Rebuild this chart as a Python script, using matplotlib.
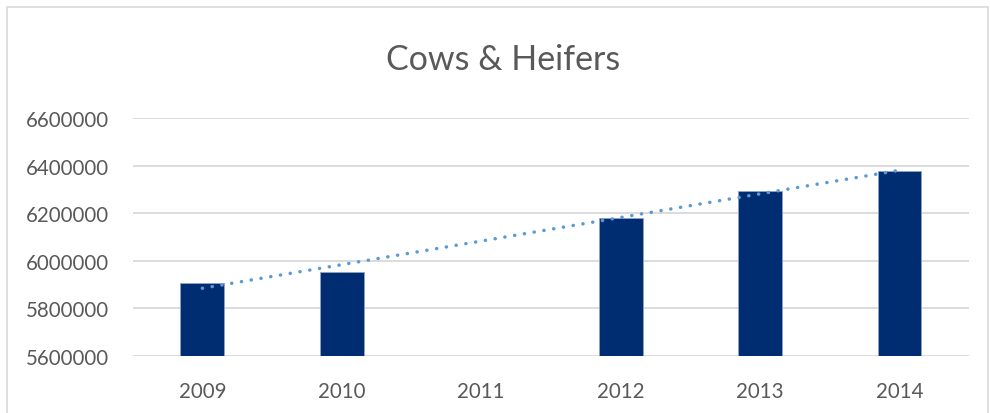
import matplotlib
matplotlib.use("Agg")
import matplotlib.pyplot as plt
import numpy as np
from matplotlib.patches import Rectangle

years = ["2009", "2010", "2011", "2012", "2013", "2014"]
head = [5907000, 5953000, np.nan, 6180000, 6293000, 6378000]

plt.rcParams["font.family"] = ["Lato", "DejaVu Sans"]
text_col = "#595959"
grid_col = "#d9d9d9"

fig = plt.figure(figsize=(9.9, 4.14), dpi=100)
ax = fig.add_axes([0.134, 0.138, 0.845, 0.5746])

x = np.arange(len(years))
vals = np.array(head, dtype=float)
ax.bar(x, np.nan_to_num(vals - 5600000), bottom=5600000, width=0.315,
       color="#002d72", edgecolor="#8fa3c4", linewidth=0.6, zorder=3)

# linear trendline over the years that have data
ok = ~np.isnan(vals)
k, b = np.polyfit(x[ok], vals[ok], 1)
ax.plot([x[0], x[-1]], [k * x[0] + b, k * x[-1] + b], color="#5b9bd5",
        linestyle=(0, (0.05, 2.8)), linewidth=2.5, dash_capstyle="round",
        solid_capstyle="round", zorder=4)

ax.set_xlim(-0.5, len(years) - 0.5)
ax.set_ylim(5600000, 6600000)
ax.set_yticks(range(5600000, 6600001, 200000))
ax.set_yticklabels([str(v) for v in range(5600000, 6600001, 200000)])
ax.set_xticks(x)
ax.set_xticklabels(years)
ax.yaxis.grid(True, color=grid_col, linewidth=1.3, zorder=0)
ax.set_axisbelow(True)
for s in ax.spines.values():
    s.set_visible(False)
ax.tick_params(axis="both", length=0, labelsize=14.8, labelcolor=text_col)
ax.tick_params(axis="x", pad=18)
ax.tick_params(axis="y", pad=17)

fig.text(0.508, 0.855, "Cows & Heifers", ha="center", va="center",
         fontsize=24.5, color=text_col)

fig.patches.append(Rectangle((7 / 990, -0.1), (988 - 7) / 990, 1.1 - 8 / 414,
                             transform=fig.transFigure, fill=False,
                             edgecolor=grid_col, linewidth=1.2))

fig.savefig("out.png", dpi=100)
